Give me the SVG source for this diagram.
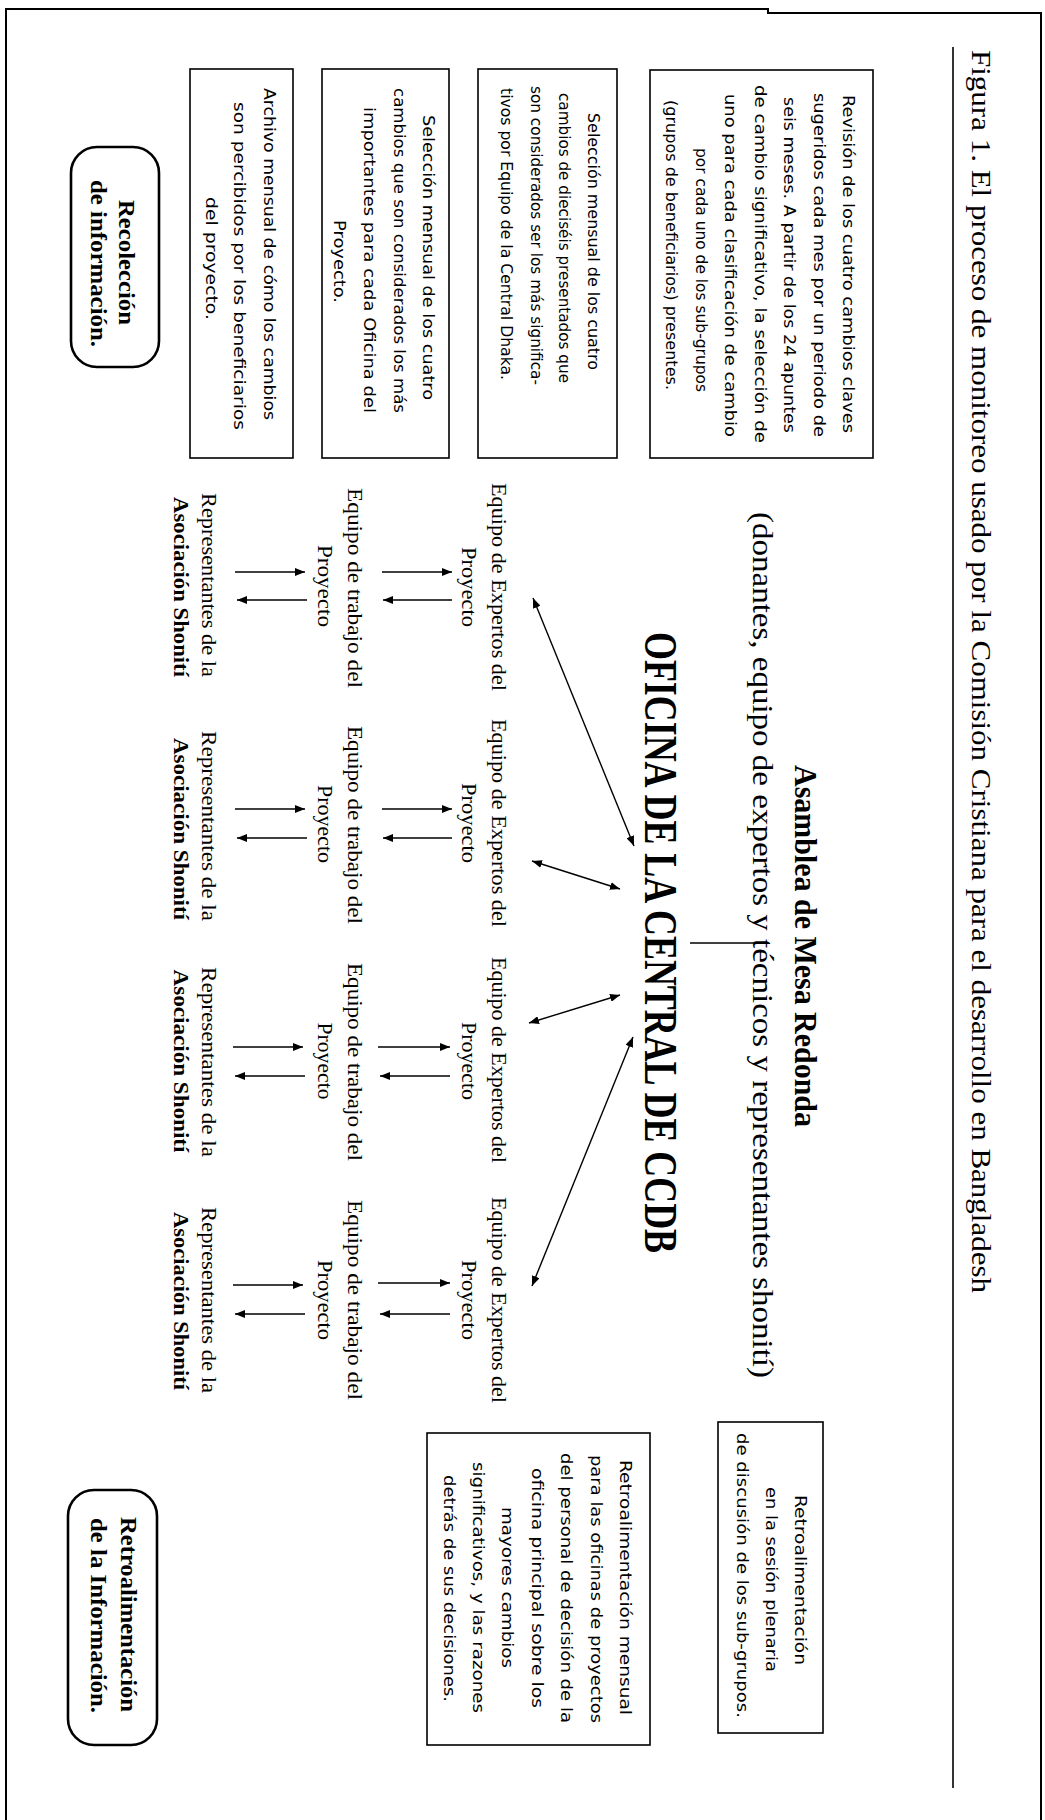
<svg xmlns="http://www.w3.org/2000/svg" width="1045" height="1820" viewBox="0 0 1045 1820">
<style>
.frame{fill:none;stroke:#000;stroke-width:2}
.box{fill:none;stroke:#000;stroke-width:1.6}
.rbox{fill:none;stroke:#000;stroke-width:2.6}
.c{fill:none;stroke:#000;stroke-width:1.4}
.sans{font-family:"DejaVu Sans","Liberation Sans",sans-serif;font-size:15.5px;fill:#000}
.ser{font-family:"Liberation Serif","Times New Roman",serif;font-size:22px;fill:#000}
.serb{font-family:"Liberation Serif","Times New Roman",serif;font-size:22px;font-weight:bold;fill:#000}
.mid{text-anchor:middle}
</style>
<defs>
<marker id="ah" viewBox="0 0 10 8" refX="10" refY="4" markerWidth="10" markerHeight="8" markerUnits="userSpaceOnUse" orient="auto-start-reverse"><path d="M0,0 L10,4 L0,8 z" fill="#000"/></marker>
</defs>
<rect width="1045" height="1820" fill="#fff"/>
<path class="frame" d="M6,1820 V9 H768 V13 H1041 V1820"/>
<line x1="953" y1="47" x2="953" y2="1788" stroke="#000" stroke-width="1.6"/>

<g id="title" transform="matrix(0,1,-1,0,1045,0)">
<text x="50" y="73" class="ser" style="font-size:28px" textLength="1243" lengthAdjust="spacingAndGlyphs">Figura 1. El proceso de monitoreo usado por la Comisión Cristiana para el desarrollo en Bangladesh</text>
</g>

<g id="box1">
<rect class="box" x="650" y="70" width="223" height="388"/>
<g transform="matrix(0,1,-1,0,1045,0)" class="sans">
<text x="95" y="202" textLength="338" lengthAdjust="spacingAndGlyphs">Revisión de los cuatro cambios claves</text>
<text x="93" y="231.5" textLength="344" lengthAdjust="spacingAndGlyphs">sugeridos cada mes por un periodo de</text>
<text x="97" y="261" textLength="336" lengthAdjust="spacingAndGlyphs">seis meses. A partir de los 24 apuntes</text>
<text x="85" y="290.5" textLength="358" lengthAdjust="spacingAndGlyphs">de cambio significativo, la selección de</text>
<text x="94" y="320" textLength="343" lengthAdjust="spacingAndGlyphs">uno para cada clasificación de cambio</text>
<text x="148" y="349.5" textLength="244" lengthAdjust="spacingAndGlyphs">por cada uno de los sub-grupos</text>
<text x="100" y="379" textLength="290" lengthAdjust="spacingAndGlyphs">(grupos de beneficiarios) presentes.</text>
</g>
</g>

<g id="box2">
<rect class="box" x="478" y="69" width="139" height="389"/>
<g transform="matrix(0,1,-1,0,1045,0)" class="sans">
<text x="113" y="457" textLength="257" lengthAdjust="spacingAndGlyphs">Selección mensual de los cuatro</text>
<text x="93" y="486" textLength="290" lengthAdjust="spacingAndGlyphs">cambios de dieciséis presentados que</text>
<text x="86" y="514" textLength="299" lengthAdjust="spacingAndGlyphs">son considerados ser los más significa-</text>
<text x="88" y="544" textLength="292" lengthAdjust="spacingAndGlyphs">tivos por Equipo de la Central Dhaka.</text>
</g>
</g>

<g id="box3">
<rect class="box" x="322" y="69" width="127" height="389"/>
<g transform="matrix(0,1,-1,0,1045,0)" class="sans">
<text x="115" y="622" textLength="285" lengthAdjust="spacingAndGlyphs">Selección mensual de los cuatro</text>
<text x="88" y="651" textLength="325" lengthAdjust="spacingAndGlyphs">cambios que son considerados los más</text>
<text x="107" y="681" textLength="306" lengthAdjust="spacingAndGlyphs">importantes para cada Oficina del</text>
<text x="220" y="711" textLength="83" lengthAdjust="spacingAndGlyphs">Proyecto.</text>
</g>
</g>

<g id="box4">
<rect class="box" x="190" y="69" width="103" height="389"/>
<g transform="matrix(0,1,-1,0,1045,0)" class="sans">
<text x="88" y="781" textLength="332" lengthAdjust="spacingAndGlyphs">Archivo mensual de cómo los cambios</text>
<text x="102" y="811" textLength="328" lengthAdjust="spacingAndGlyphs">son percibidos por los beneficiarios</text>
<text x="197" y="839" textLength="123" lengthAdjust="spacingAndGlyphs">del proyecto.</text>
</g>
</g>

<g id="recoleccion">
<rect class="rbox" x="71" y="147" width="88" height="220" rx="26" ry="26"/>
<g transform="matrix(0,1,-1,0,1045,0)" class="serb" style="font-size:23px">
<text x="200" y="926" textLength="125" lengthAdjust="spacingAndGlyphs">Recolección</text>
<text x="180" y="954" textLength="167" lengthAdjust="spacingAndGlyphs">de información.</text>
</g>
</g>

<g id="asamblea" transform="matrix(0,1,-1,0,1045,0)">
<text x="765" y="250" class="serb" style="font-size:31px" textLength="362" lengthAdjust="spacingAndGlyphs">Asamblea de Mesa Redonda</text>
<text x="512" y="292" class="ser" style="font-size:30px" textLength="866" lengthAdjust="spacingAndGlyphs">(donantes, equipo de expertos y técnicos y representantes shonití)</text>
</g>

<g id="oficina" transform="matrix(0,1,-1,0,1045,0)">
<text x="632" y="400" class="serb" style="font-size:46px" textLength="621" lengthAdjust="spacingAndGlyphs">OFICINA DE LA CENTRAL DE CCDB</text>
</g>

<g id="expertos1" transform="matrix(0,1,-1,0,1045,0)" class="ser mid">
<text x="587" y="553" textLength="208" lengthAdjust="spacingAndGlyphs">Equipo de Expertos del</text>
<text x="587" y="583" textLength="80" lengthAdjust="spacingAndGlyphs">Proyecto</text>
</g>
<g id="expertos2" transform="matrix(0,1,-1,0,1045,0)" class="ser mid">
<text x="823" y="553" textLength="208" lengthAdjust="spacingAndGlyphs">Equipo de Expertos del</text>
<text x="823" y="583" textLength="80" lengthAdjust="spacingAndGlyphs">Proyecto</text>
</g>
<g id="expertos3" transform="matrix(0,1,-1,0,1045,0)" class="ser mid">
<text x="1060" y="553" textLength="206" lengthAdjust="spacingAndGlyphs">Equipo de Expertos del</text>
<text x="1061" y="583" textLength="78" lengthAdjust="spacingAndGlyphs">Proyecto</text>
</g>
<g id="expertos4" transform="matrix(0,1,-1,0,1045,0)" class="ser mid">
<text x="1300" y="553" textLength="206" lengthAdjust="spacingAndGlyphs">Equipo de Expertos del</text>
<text x="1300" y="583" textLength="80" lengthAdjust="spacingAndGlyphs">Proyecto</text>
</g>

<g id="trabajo1" transform="matrix(0,1,-1,0,1045,0)" class="ser mid">
<text x="588" y="697" textLength="200" lengthAdjust="spacingAndGlyphs">Equipo de trabajo del</text>
<text x="586" y="727" textLength="82" lengthAdjust="spacingAndGlyphs">Proyecto</text>
</g>
<g id="trabajo2" transform="matrix(0,1,-1,0,1045,0)" class="ser mid">
<text x="825" y="697" textLength="198" lengthAdjust="spacingAndGlyphs">Equipo de trabajo del</text>
<text x="824" y="727" textLength="78" lengthAdjust="spacingAndGlyphs">Proyecto</text>
</g>
<g id="trabajo3" transform="matrix(0,1,-1,0,1045,0)" class="ser mid">
<text x="1062" y="697" textLength="198" lengthAdjust="spacingAndGlyphs">Equipo de trabajo del</text>
<text x="1061" y="727" textLength="77" lengthAdjust="spacingAndGlyphs">Proyecto</text>
</g>
<g id="trabajo4" transform="matrix(0,1,-1,0,1045,0)" class="ser mid">
<text x="1300" y="697" textLength="200" lengthAdjust="spacingAndGlyphs">Equipo de trabajo del</text>
<text x="1300" y="727" textLength="80" lengthAdjust="spacingAndGlyphs">Proyecto</text>
</g>

<g id="shoniti1" transform="matrix(0,1,-1,0,1045,0)">
<text x="585" y="843" class="ser mid" textLength="184" lengthAdjust="spacingAndGlyphs">Representantes de la</text>
<text x="587" y="871" class="serb mid" textLength="180" lengthAdjust="spacingAndGlyphs">Asociación Shonití</text>
</g>
<g id="shoniti2" transform="matrix(0,1,-1,0,1045,0)">
<text x="826" y="843" class="ser mid" textLength="190" lengthAdjust="spacingAndGlyphs">Representantes de la</text>
<text x="829" y="871" class="serb mid" textLength="182" lengthAdjust="spacingAndGlyphs">Asociación Shonití</text>
</g>
<g id="shoniti3" transform="matrix(0,1,-1,0,1045,0)">
<text x="1062" y="843" class="ser mid" textLength="190" lengthAdjust="spacingAndGlyphs">Representantes de la</text>
<text x="1061" y="871" class="serb mid" textLength="183" lengthAdjust="spacingAndGlyphs">Asociación Shonití</text>
</g>
<g id="shoniti4" transform="matrix(0,1,-1,0,1045,0)">
<text x="1300" y="843" class="ser mid" textLength="186" lengthAdjust="spacingAndGlyphs">Representantes de la</text>
<text x="1301" y="871" class="serb mid" textLength="178" lengthAdjust="spacingAndGlyphs">Asociación Shonití</text>
</g>

<g id="plenaria">
<rect class="box" x="718" y="1422" width="105" height="311"/>
<g transform="matrix(0,1,-1,0,1045,0)" class="sans">
<text x="1495" y="250" textLength="170" lengthAdjust="spacingAndGlyphs">Retroalimentación</text>
<text x="1487" y="279" textLength="185" lengthAdjust="spacingAndGlyphs">en la sesión plenaria</text>
<text x="1433" y="308" textLength="285" lengthAdjust="spacingAndGlyphs">de discusión de los sub-grupos.</text>
</g>
</g>

<g id="mensual">
<rect class="box" x="427" y="1433" width="223" height="312"/>
<g transform="matrix(0,1,-1,0,1045,0)" class="sans">
<text x="1460" y="425" textLength="255" lengthAdjust="spacingAndGlyphs">Retroalimentación mensual</text>
<text x="1455" y="454" textLength="268" lengthAdjust="spacingAndGlyphs">para las oficinas de proyectos</text>
<text x="1453" y="484" textLength="270" lengthAdjust="spacingAndGlyphs">del personal de decisión de la</text>
<text x="1468" y="513" textLength="240" lengthAdjust="spacingAndGlyphs">oficina principal sobre los</text>
<text x="1507" y="543" textLength="161" lengthAdjust="spacingAndGlyphs">mayores cambios</text>
<text x="1462" y="572" textLength="251" lengthAdjust="spacingAndGlyphs">significativos, y las razones</text>
<text x="1475" y="601" textLength="227" lengthAdjust="spacingAndGlyphs">detrás de sus decisiones.</text>
</g>
</g>

<g id="retroalimentacion">
<rect class="rbox" x="68" y="1490" width="89" height="255" rx="26" ry="26"/>
<g transform="matrix(0,1,-1,0,1045,0)" class="serb" style="font-size:23px">
<text x="1517" y="924" textLength="195" lengthAdjust="spacingAndGlyphs">Retroalimentación</text>
<text x="1518" y="954" textLength="195" lengthAdjust="spacingAndGlyphs">de la Información.</text>
</g>
</g>

<g id="connectors">
<line class="c" x1="690" y1="943" x2="755" y2="943"/>
<line class="c" x1="533" y1="598" x2="634" y2="846" marker-start="url(#ah)" marker-end="url(#ah)"/>
<line class="c" x1="532" y1="861" x2="620" y2="889" marker-start="url(#ah)" marker-end="url(#ah)"/>
<line class="c" x1="529" y1="1023" x2="620" y2="995" marker-start="url(#ah)" marker-end="url(#ah)"/>
<line class="c" x1="633" y1="1037" x2="532" y2="1286" marker-start="url(#ah)" marker-end="url(#ah)"/>

<line class="c" x1="382" y1="572" x2="452" y2="572" marker-end="url(#ah)"/>
<line class="c" x1="452" y1="600" x2="383" y2="600" marker-end="url(#ah)"/>
<line class="c" x1="382" y1="809" x2="452" y2="809" marker-end="url(#ah)"/>
<line class="c" x1="452" y1="838" x2="383" y2="838" marker-end="url(#ah)"/>
<line class="c" x1="378" y1="1047" x2="450" y2="1047" marker-end="url(#ah)"/>
<line class="c" x1="450" y1="1076" x2="380" y2="1076" marker-end="url(#ah)"/>
<line class="c" x1="378" y1="1283" x2="450" y2="1283" marker-end="url(#ah)"/>
<line class="c" x1="450" y1="1314" x2="380" y2="1314" marker-end="url(#ah)"/>

<line class="c" x1="235" y1="572" x2="305" y2="572" marker-end="url(#ah)"/>
<line class="c" x1="307" y1="600" x2="237" y2="600" marker-end="url(#ah)"/>
<line class="c" x1="235" y1="809" x2="305" y2="809" marker-end="url(#ah)"/>
<line class="c" x1="307" y1="838" x2="237" y2="838" marker-end="url(#ah)"/>
<line class="c" x1="233" y1="1047" x2="303" y2="1047" marker-end="url(#ah)"/>
<line class="c" x1="305" y1="1076" x2="235" y2="1076" marker-end="url(#ah)"/>
<line class="c" x1="233" y1="1285" x2="303" y2="1285" marker-end="url(#ah)"/>
<line class="c" x1="305" y1="1314" x2="235" y2="1314" marker-end="url(#ah)"/>
</g>
</svg>
